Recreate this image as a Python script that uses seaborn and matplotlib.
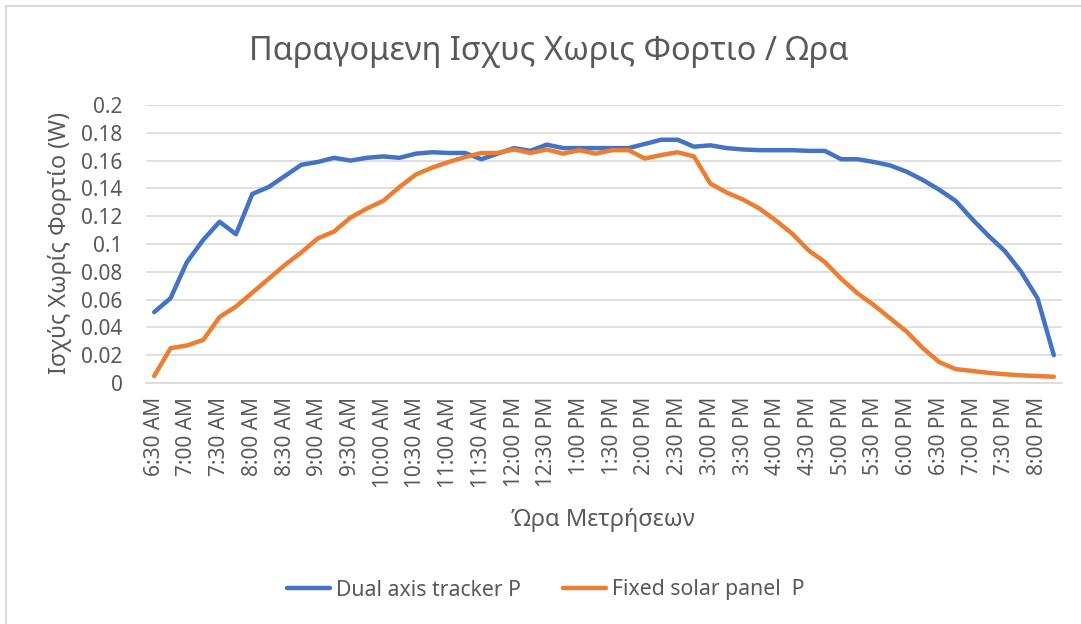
import matplotlib
matplotlib.use("Agg")
import matplotlib.pyplot as plt
import matplotlib.lines as mlines
import numpy as np
import pandas as pd
import seaborn as sns

# Measurement times, every 15 minutes from 6:30 AM
times = pd.date_range("2020-06-01 06:30", periods=56, freq="15min")
time_labels = [t.strftime("%I:%M %p").lstrip("0") for t in times]

tracker_p = [0.051, 0.061, 0.087, 0.103, 0.116, 0.107, 0.136, 0.141, 0.149, 0.157,
             0.159, 0.162, 0.160, 0.162, 0.163, 0.162, 0.165, 0.166, 0.1655, 0.1655,
             0.161, 0.165, 0.169, 0.167, 0.1715, 0.169, 0.169, 0.169, 0.169, 0.169,
             0.172, 0.175, 0.175, 0.170, 0.171, 0.169, 0.168, 0.1675, 0.1675, 0.1675,
             0.167, 0.167, 0.161, 0.161, 0.159, 0.1565, 0.152, 0.146, 0.139, 0.131,
             0.118, 0.106, 0.095, 0.080, 0.061, 0.020]

fixed_p = [0.005, 0.025, 0.027, 0.031, 0.0475, 0.055, 0.065, 0.075, 0.085, 0.094,
           0.104, 0.109, 0.119, 0.1255, 0.131, 0.141, 0.150, 0.155, 0.159, 0.1625,
           0.1655, 0.1655, 0.168, 0.1655, 0.168, 0.165, 0.1675, 0.165, 0.1675, 0.1675,
           0.1615, 0.164, 0.166, 0.163, 0.1435, 0.137, 0.132, 0.1255, 0.117, 0.1075,
           0.0955, 0.087, 0.075, 0.0645, 0.056, 0.0465, 0.037, 0.025, 0.015, 0.010,
           0.0087, 0.0073, 0.0063, 0.0055, 0.005, 0.0045]

series_names = ["Dual axis tracker P", "Fixed solar panel  P"]
colors = ["#4472C4", "#ED7D31"]

y_ticks = [0, 0.02, 0.04, 0.06, 0.08, 0.1, 0.12, 0.14, 0.16, 0.18, 0.2]
y_tick_labels = ["0", "0.02", "0.04", "0.06", "0.08", "0.1", "0.12", "0.14", "0.16", "0.18", "0.2"]

title = "Παραγομενη Ισχυς Χωρις Φορτιο / Ωρα"
y_label = "Ισχύς Χωρίς Φορτίο (W)"
x_label = "Ώρα Μετρήσεων"

df = pd.DataFrame({
    "pos": list(range(len(time_labels))) * 2,
    "value": tracker_p + fixed_p,
    "series": [series_names[0]] * len(tracker_p) + [series_names[1]] * len(fixed_p),
})

sns.set_theme(style="white")
plt.rcParams["font.family"] = ["Noto Sans", "DejaVu Sans"]
text_color = "#595959"
line_w = 3.2

fig = plt.figure(figsize=(10.81, 6.24), dpi=100)
ax = fig.add_axes([146 / 1081, 1 - 383 / 624, (1062 - 146) / 1081, (383 - 105) / 624])

sns.lineplot(data=df, x="pos", y="value", hue="series", palette=colors,
             hue_order=series_names, linewidth=line_w, ax=ax, legend=False,
             solid_capstyle="round", solid_joinstyle="round")

ax.set_xlim(-0.5, len(time_labels) - 0.5)
ax.set_ylim(0, 0.2)
ax.set_yticks(y_ticks)
ax.set_yticklabels(y_tick_labels, fontsize=15, color=text_color)
tick_pos = list(range(0, len(time_labels), 2))
ax.set_xticks(tick_pos)
ax.set_xticklabels([time_labels[i] for i in tick_pos], rotation=90,
                   fontsize=15, color=text_color, va="top")
ax.tick_params(axis="both", length=0)
ax.tick_params(axis="x", pad=10)
ax.tick_params(axis="y", pad=17)
ax.grid(axis="y", color="#D9D9D9", linewidth=1.2)
ax.set_axisbelow(True)
for side in ["top", "right", "left"]:
    ax.spines[side].set_visible(False)
ax.spines["bottom"].set_color("#D9D9D9")
ax.spines["bottom"].set_linewidth(1.2)
ax.set_xlabel("")
ax.set_ylabel("")

fig.text(549 / 1081, 1 - 52 / 624, title, ha="center", va="center",
         fontsize=23.4, color=text_color)
fig.text(60 / 1081, 1 - 243 / 624, y_label, ha="center", va="center",
         rotation=90, fontsize=16.8, color=text_color)
fig.text(603 / 1081, 1 - 520 / 624, x_label, ha="center", va="center",
         fontsize=17, color=text_color)

handles = [mlines.Line2D([], [], color=c, linewidth=line_w, solid_capstyle="round")
           for c in colors]
fig.legend(handles, series_names, loc="center", bbox_to_anchor=(546 / 1081, 1 - 590 / 624),
           ncol=2, frameon=False, fontsize=15.3, labelcolor=text_color,
           handlelength=2.0, handletextpad=0.3, columnspacing=2.0)

# light chart border along the top and left edges
fig.add_artist(mlines.Line2D([6 / 1081, 6 / 1081], [0, 1 - 6 / 624],
                             transform=fig.transFigure, color="#D9D9D9", linewidth=1.5))
fig.add_artist(mlines.Line2D([6 / 1081, 1], [1 - 6 / 624, 1 - 6 / 624],
                             transform=fig.transFigure, color="#D9D9D9", linewidth=1.5))

fig.savefig("out.png", dpi=100, facecolor="white")
